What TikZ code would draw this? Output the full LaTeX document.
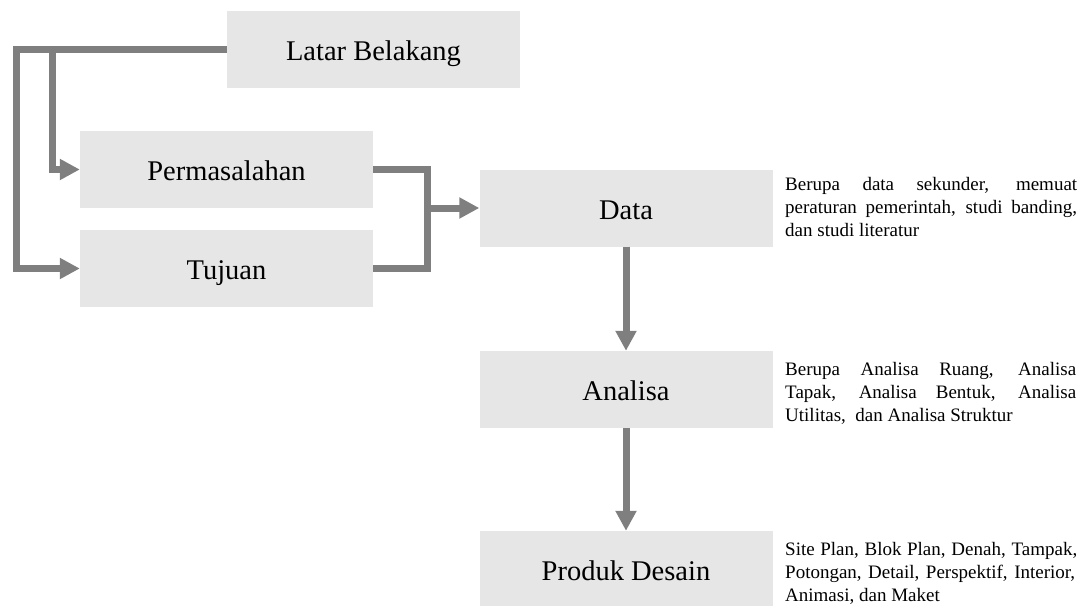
\documentclass[tikz,border=0pt]{standalone}
\usepackage{fontspec}
\setmainfont{Liberation Serif}
\usetikzlibrary{arrows.meta}
\definecolor{boxgray}{HTML}{E7E6E6}
\definecolor{linegray}{HTML}{7F7F7F}
\begin{document}
\begin{tikzpicture}[x=1pt,y=-1pt,
  stage/.style={fill=boxgray, draw=none, minimum width=293pt, minimum height=77pt, inner sep=0pt, text height=22pt, text depth=0pt, font=\fontsize{28.5}{34}\selectfont},
  link/.style={draw=linegray, line width=7pt, line join=miter},
  flow/.style={link, -{Triangle[length=20pt,width=20pt]}},
  note/.style={anchor=north west, inner sep=0pt, align=left, font=\fontsize{19}{23}\selectfont}
]
\useasboundingbox (0,0) rectangle (1091,605);

\node[stage] (lb) at (373.5,49) {Latar Belakang};
\node[stage] (pm) at (226.5,169.5) {Permasalahan};
\node[stage] (tj) at (226.5,268.5) {Tujuan};
\node[stage] (dt) at (626,208) {Data};
\node[stage] (an) at (626,389.5) {Analisa};
\node[stage] (pd) at (626,569.5) {Produk Desain};

\coordinate (j1) at (52,49);
\coordinate (m) at (427,208);

\draw[flow] (lb.west) -- (16,49) |- (tj.west);
\draw[flow] (j1) |- (pm.west);
\draw[link] (pm.east) -| (m) |- (tj.east);
\draw[flow] (m) -- (dt.west);
\draw[flow] (dt.south) -- (an.north);
\draw[flow] (an.south) -- (pd.north);

\node[note] (ndt) at (785,174) {\strut\makebox[292pt][s]{Berupa data sekunder, memuat}\\
\makebox[292pt][s]{peraturan pemerintah, studi banding,}\\
dan studi literatur};
\node[note] (nan) at (785,359) {\strut\makebox[291pt][s]{Berupa Analisa Ruang, Analisa}\\
\makebox[291pt][s]{Tapak, Analisa Bentuk, Analisa}\\
Utilitas,\ \ dan Analisa Struktur};
\node[note] (npd) at (785,539) {\strut\makebox[292pt][s]{Site Plan, Blok Plan, Denah, Tampak,}\\
\makebox[290pt][s]{Potongan, Detail, Perspektif, Interior,}\\
Animasi, dan Maket};
\end{tikzpicture}
\end{document}
